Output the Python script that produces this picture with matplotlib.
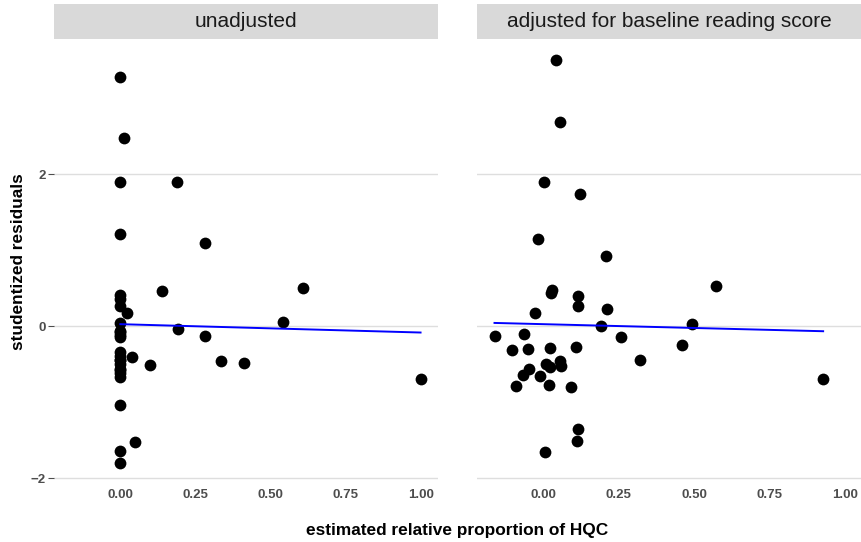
import numpy as np
import matplotlib.pyplot as plt

plt.rcParams['font.family'] = ['Liberation Sans', 'DejaVu Sans']

# ----------------- Data -----------------
panels = ["unadjusted", "adjusted for baseline reading score"]

x_unadj = [0.0, 0.011, 0.0, 0.19, 0.0, 0.282,
           0.0, 0.14, 0.0, 0.022, 0.0, 0.193, 0.608, 0.542, 0.28,
           0.0, 0.0, 0.0, 0.0, 0.0, 0.038, 0.1, 0.336, 0.411,
           0.0, 0.0, 0.0, 0.999, 0.0, 0.049, 0.0, 0.0,
           0.0, 0.0, 0.0, 0.0, 0.0, 0.0]
y_unadj = [3.28, 2.48, 1.90, 1.90, 1.21, 1.09,
           0.41, 0.46, 0.27, 0.175, 0.035, -0.035, 0.50, 0.06, -0.136,
           -0.075, -0.12, -0.34, -0.40, -0.45, -0.41, -0.51, -0.46, -0.49,
           -0.58, -0.62, -0.675, -0.70, -1.04, -1.53, -1.64, -1.80,
           0.35, -0.06, -0.15, -0.44, -0.50, -0.56]

x_adj = [0.04, 0.055, 0.001, 0.122, -0.018, 0.206,
         0.571, 0.029, 0.023, 0.114, 0.115, 0.211, -0.027, 0.19, 0.494,
         -0.163, -0.066, 0.258, 0.461, 0.109, -0.105, -0.052, 0.022, 0.319,
         0.055, 0.059, 0.007, 0.02, -0.047, -0.07, -0.013, 0.928,
         -0.093, 0.017, 0.09, 0.113, 0.11, 0.004]
y_adj = [3.50, 2.68, 1.90, 1.74, 1.14, 0.92,
         0.53, 0.48, 0.44, 0.40, 0.26, 0.23, 0.175, -0.005, 0.03,
         -0.13, -0.11, -0.15, -0.25, -0.27, -0.32, -0.30, -0.29, -0.45,
         -0.46, -0.52, -0.50, -0.54, -0.57, -0.65, -0.66, -0.69,
         -0.79, -0.78, -0.80, -1.36, -1.51, -1.66]

# linear fit lines (intercept, slope)
fit_unadj = (0.025, -0.11)
fit_adj = (0.025, -0.10)

x_ticks = [0.0, 0.25, 0.50, 0.75, 1.00]
x_labels = ["0.00", "0.25", "0.50", "0.75", "1.00"]
y_ticks = [-2, 0, 2]
y_labels = ["\u22122", "0", "2"]

# ----------------- Plot -----------------
fig = plt.figure(figsize=(8.62, 5.42), dpi=100)
ax_pos = [[0.0626, 0.1089, 0.4455, 0.8173], [0.5534, 0.1089, 0.4466, 0.8173]]
strip_h = 0.0646

datasets = [(x_unadj, y_unadj, fit_unadj), (x_adj, y_adj, fit_adj)]

for k, (xs, ys, fit) in enumerate(datasets):
    ax = fig.add_axes(ax_pos[k])
    ax.scatter(xs, ys, s=72, color="black", zorder=3, linewidths=0)
    b0, b1 = fit
    xl = np.array([min(xs), max(xs)])
    ax.plot(xl, b0 + b1 * xl, color="blue", lw=1.4, zorder=4)

    ax.set_xlim(-0.221, 1.057)
    ax.set_ylim(-2.065, 3.765)
    ax.set_xticks(x_ticks)
    ax.set_xticklabels(x_labels)
    ax.set_yticks(y_ticks)
    if k == 0:
        ax.set_yticklabels(y_labels)
    else:
        ax.set_yticklabels([])
    ax.grid(axis="y", color="#DEDEDE", lw=1.0)
    ax.set_axisbelow(True)
    for s in ax.spines.values():
        s.set_visible(False)
    ax.tick_params(axis="x", length=0, pad=4, labelsize=9.5, labelcolor="#4D4D4D")
    ax.tick_params(axis="y", length=4 if k == 0 else 0, color="#4D4D4D",
                   pad=2, labelsize=9.5, labelcolor="#4D4D4D")
    for lab in ax.get_xticklabels() + ax.get_yticklabels():
        lab.set_fontweight("bold")

    # facet strip
    p = ax_pos[k]
    sax = fig.add_axes([p[0], p[1] + p[3] + 0.002, p[2], strip_h])
    sax.set_facecolor("#D9D9D9")
    sax.set_xticks([])
    sax.set_yticks([])
    for s in sax.spines.values():
        s.set_visible(False)
    sax.text(0.5, 0.5, panels[k], ha="center", va="center", fontsize=15,
             color="#1A1A1A", transform=sax.transAxes)

fig.text(0.530, 0.022, "estimated relative proportion of HQC", ha="center",
         va="center", fontsize=12.4, fontweight="bold")
fig.text(0.022, 0.518, "studentized residuals", ha="center", va="center",
         rotation=90, fontsize=12.4, fontweight="bold")

fig.savefig("out.png", dpi=100)
